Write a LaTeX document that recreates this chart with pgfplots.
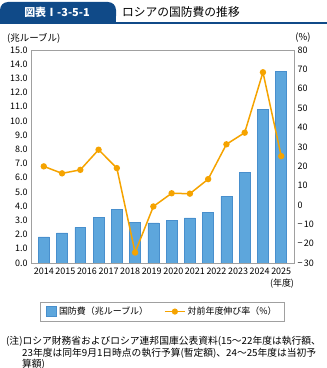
\documentclass[border=0pt]{standalone}
\usepackage{pgfplots}
\pgfplotsset{compat=1.18}
\usepackage{fontspec}
\setmainfont{Noto Sans CJK JP}
\definecolor{tabblue}{RGB}{16,74,136}
\definecolor{barblue}{RGB}{93,166,220}
\definecolor{baredge}{RGB}{72,143,205}
\definecolor{lineorange}{RGB}{245,163,0}
\definecolor{framegray}{RGB}{160,160,160}
\begin{document}
\begin{tikzpicture}[x=1bp,y=1bp]
\path[use as bounding box] (0,0) rectangle (327,368);
% header
\fill[tabblue,rounded corners=8bp] (0,344) -- (0,366) -- (116,366) -- (116,344) -- cycle;
\fill[tabblue] (0,344) rectangle (116,352);
\fill[tabblue] (0,343.5) rectangle (327,345.5);
\node[anchor=center,text=white,font=\fontsize{11}{12}\selectfont\bfseries] at (57,355.5) {図表Ⅰ-3-5-1};
\node[anchor=west,font=\fontsize{11.8}{12}\selectfont,inner sep=0] at (122,356) {ロシアの国防費の推移};
% axis captions
\node[anchor=west,font=\fontsize{9.5}{10}\selectfont,inner sep=0] at (7,330) {(兆ルーブル)};
\node[anchor=center,font=\fontsize{9.5}{10}\selectfont,inner sep=0] at (303,330) {(\%)};
\node[anchor=center,font=\fontsize{9}{10}\selectfont,inner sep=0] at (282,84) {(年度)};
% axes
\begin{axis}[
  at={(31bp,105bp)}, anchor=south west, scale only axis,
  width=263bp, height=213bp,
  xmin=-0.7, xmax=13.7, ymin=0, ymax=15,
  ytick={0,1,...,15},
  yticklabel style={/pgf/number format/fixed,/pgf/number format/fixed zerofill,/pgf/number format/precision=1},
  /pgf/number format/assume math mode=true,
  xtick={0,1.18182,2.36364,3.54545,4.72727,5.90909,7.09091,8.27273,9.45455,10.63636,11.81818,13},
  xticklabels={2014,2015,2016,2017,2018,2019,2020,2021,2022,2023,2024,2025},
  major tick length=0pt,
  axis line style={framegray},
  tick label style={font=\fontsize{9}{10}\selectfont},
  xticklabel style={yshift=-1bp},
]
\addplot[ybar, bar width=0.6, fill=barblue, draw=baredge, line width=0.6bp]
  coordinates {(0,1.84) (1,2.12) (2,2.5) (3,3.2) (4,3.8) (5,2.85) (6,2.83) (7,3.0) (8,3.18) (9,3.58) (10,4.7) (11,6.4) (12,10.8) (13,13.5)};
\end{axis}
\begin{axis}[
  at={(31bp,105bp)}, anchor=south west, scale only axis,
  width=263bp, height=213bp,
  xmin=-0.7, xmax=13.7, ymin=-30, ymax=80,
  axis x line=none, axis y line*=right,
  ytick={-30,-20,-10,0,10,20,30,40,50,60,70,80},
  yticklabels={−\,30,−\,20,−\,10,0,10,20,30,40,50,60,70,80},
  major tick length=0pt,
  axis line style={framegray},
  tick label style={font=\fontsize{9}{10}\selectfont},
  legend style={at={(0.5,-0.228)}, anchor=center, draw=framegray, line width=0.6bp,
    font=\fontsize{9}{10}\selectfont, inner xsep=6bp, inner ysep=3bp},
  legend columns=2,
  /tikz/every even column/.append style={column sep=14bp},
  legend image code/.code={\draw[#1] (0bp,0bp) -- (20bp,0bp); \fill[lineorange] (10bp,0bp) circle (2.3bp);},
]
\addlegendimage{legend image code/.code={\fill[barblue,draw=baredge] (2bp,-5bp) rectangle (12bp,5bp);}}
\addlegendentry{国防費（兆ルーブル）}
\addplot[lineorange, line width=1.5bp, mark=*, mark size=2.4bp, mark options={fill=lineorange,draw=lineorange}]
  coordinates {(0,19.9) (1,16.3) (2,18.1) (3,28.5) (4,19.0) (5,-24.6) (6,-0.8) (7,6.0) (8,5.8) (9,13.3) (10,31.3) (11,37.3) (12,68.5) (13,25.2)};
\addlegendentry{対前年度伸び率（\%）}
\end{axis}
% note
\node[anchor=west,font=\fontsize{9.8}{10}\selectfont,inner sep=0] at (6,26.5) {(注)ロシア財務省およびロシア連邦国庫公表資料(15～22年度は執行額、};
\node[anchor=west,font=\fontsize{9.8}{10}\selectfont,inner sep=0] at (22,14.3) {23年度は同年9月1日時点の執行予算(暫定額)、24～25年度は当初予};
\node[anchor=west,font=\fontsize{9.8}{10}\selectfont,inner sep=0] at (22,3.5) {算額)};
\end{tikzpicture}
\end{document}
